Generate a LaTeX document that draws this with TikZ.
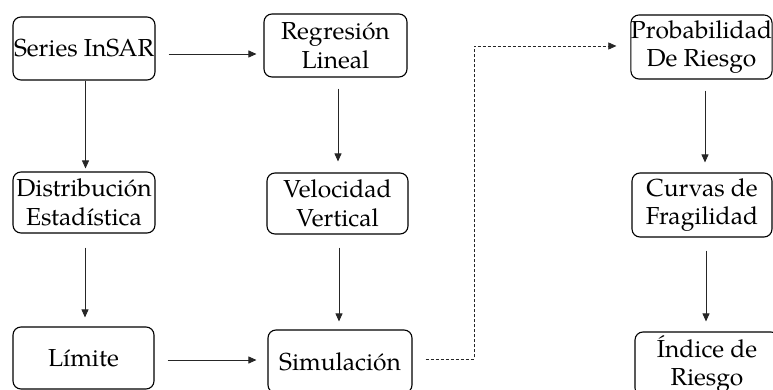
\documentclass[tikz,border=0pt]{standalone}
\usepackage{fontspec}
\setmainfont{TeX Gyre Pagella}
\usetikzlibrary{arrows.meta}

\tikzset{
  stage/.style={draw=black, line width=1.1pt, rounded corners=8pt, fill=white,
    inner sep=0pt, align=center, font=\fontsize{24.6}{28.5}\selectfont},
  arr/.style={draw=black!85, line width=0.8pt, -{Triangle[length=8pt,width=7pt]}},
  dasharr/.style={arr, dash pattern=on 3pt off 2pt, line width=0.7pt}
}

\begin{document}
\begin{tikzpicture}[x=1pt, y=-1pt]
  \useasboundingbox (0,0) rectangle (773,390);
  \clip (0,0) rectangle (773,390);

  % left column
  \node[stage, minimum width=142pt, minimum height=63pt] (series) at (84,48.5) {Series InSAR};
  \node[stage, minimum width=142pt, minimum height=61pt] (distr) at (84,202.5) {Distribución\\Estadística};
  \node[stage, minimum width=141pt, minimum height=62pt] (limite) at (83.5,358) {Límite};

  % middle column
  \node[stage, minimum width=143pt, minimum height=63pt] (regr) at (335.5,45.5) {Regresión\\Lineal};
  \node[stage, minimum width=141pt, minimum height=61pt] (veloc) at (337.5,203.5) {Velocidad\\Vertical};
  \node[stage, minimum width=144pt, minimum height=63pt] (simul) at (340,361.5) {Simulación};

  % right column
  \node[stage, minimum width=141pt, minimum height=64pt] (prob) at (701.5,47) {Probabilidad\\De Riesgo};
  \node[stage, minimum width=140pt, minimum height=64pt] (curvas) at (702,205) {Curvas de\\Fragilidad};
  \node[stage, minimum width=144pt, minimum height=64pt] (indice) at (707,364) {Índice de\\Riesgo};

  % connectors
  \draw[arr, shorten <=13pt, shorten >=7pt]
    ([yshift=-5.5pt]series.east) -- ([yshift=-5.5pt]series.east -| regr.west);
  \draw[arr, shorten >=3pt]
    ([xshift=1.5pt]series.south) -- ([xshift=1.5pt]series.south |- distr.north);
  \draw[arr, shorten <=14pt, shorten >=9pt]
    ([xshift=1pt]distr.south) -- ([xshift=1pt]distr.south |- limite.north);
  \draw[arr, shorten <=13pt, shorten >=11pt]
    ([yshift=-2pt]limite.east) -- ([yshift=-2pt]limite.east -| simul.west);
  \draw[arr, shorten <=11pt, shorten >=11pt]
    ([xshift=2.5pt]regr.south) -- ([xshift=2.5pt]regr.south |- veloc.north);
  \draw[arr, shorten <=13pt, shorten >=8pt]
    ([xshift=1.5pt]veloc.south) -- ([xshift=1.5pt]veloc.south |- simul.north);
  \coordinate (bendlow) at (474,359);
  \coordinate (bendhigh) at (474,46);
  \draw[dasharr, shorten >=14pt]
    ([xshift=13pt,yshift=2.5pt]simul.east) -- (bendlow) -- (bendhigh) -- (bendhigh -| prob.west);
  \draw[arr, shorten <=11pt, shorten >=10pt]
    ([xshift=3.5pt]prob.south) -- ([xshift=3.5pt]prob.south |- curvas.north);
  \draw[arr, shorten <=13pt, shorten >=10pt]
    ([xshift=4pt]curvas.south) -- ([xshift=4pt]curvas.south |- indice.north);
\end{tikzpicture}
\end{document}
